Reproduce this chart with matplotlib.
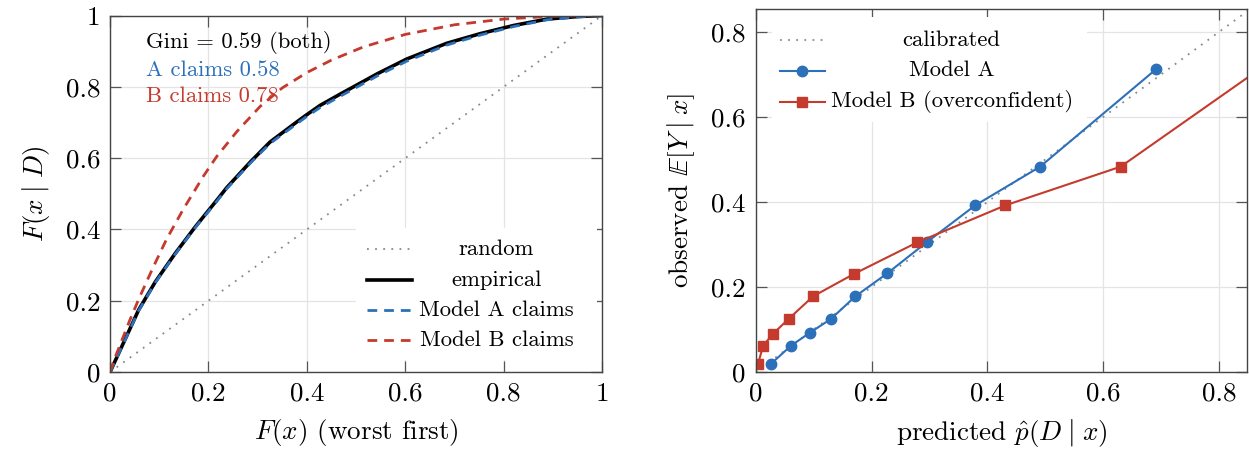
import matplotlib
matplotlib.use("Agg")
import matplotlib.pyplot as plt
from matplotlib.patches import Rectangle

plt.rcParams['font.family'] = 'serif'
plt.rcParams['font.serif'] = ['cmr10']
plt.rcParams['mathtext.fontset'] = 'cm'
plt.rcParams['axes.unicode_minus'] = False
plt.rcParams['axes.formatter.use_mathtext'] = True

BLUE = '#2c70ba'
RED = '#c43b2e'
GRAY = '#7f8c8d'

# ---- left panel: cumulative capture curves ----
cap_x = [0, 0.03, 0.058, 0.092, 0.132, 0.173, 0.217, 0.237, 0.285, 0.325, 0.379,
         0.40, 0.427, 0.467, 0.508, 0.545, 0.603, 0.684, 0.752, 0.82, 0.888, 0.95, 1.0]
empirical_y = [0, 0.09, 0.174, 0.253, 0.332, 0.407, 0.482, 0.517, 0.589, 0.645, 0.701,
               0.722, 0.748, 0.779, 0.81, 0.838, 0.878, 0.922, 0.949, 0.972, 0.99, 0.997, 1.0]
model_a_y = [0, 0.088, 0.172, 0.251, 0.33, 0.405, 0.479, 0.514, 0.586, 0.641, 0.696,
             0.717, 0.742, 0.773, 0.804, 0.832, 0.872, 0.917, 0.945, 0.969, 0.988, 0.996, 1.0]
model_b_x = [0, 0.01, 0.04, 0.06, 0.088, 0.115, 0.149, 0.19, 0.217, 0.258, 0.305, 0.35,
             0.40, 0.45, 0.515, 0.60, 0.70, 0.80, 0.90, 1.0]
model_b_y = [0, 0.04, 0.145, 0.21, 0.295, 0.373, 0.457, 0.55, 0.605, 0.675, 0.745, 0.797,
             0.84, 0.875, 0.912, 0.947, 0.974, 0.99, 0.998, 1.0]

# ---- right panel: reliability diagram ----
calib = [0, 0.85]
a_pred = [0.027, 0.061, 0.093, 0.130, 0.172, 0.227, 0.295, 0.379, 0.491, 0.691]
a_obs = [0.020, 0.062, 0.092, 0.125, 0.178, 0.232, 0.305, 0.392, 0.483, 0.712]
b_pred = [0.004, 0.013, 0.030, 0.057, 0.099, 0.170, 0.279, 0.431, 0.630, 0.93]
b_obs = [0.019, 0.062, 0.090, 0.125, 0.178, 0.231, 0.305, 0.392, 0.483, 0.77]

fig = plt.figure(figsize=(12.49, 4.51), dpi=100)
ax1 = fig.add_axes([0.0881, 0.175, 0.394, 0.7906])
ax2 = fig.add_axes([0.605, 0.175, 0.3934, 0.8044])

FS = 19.5
SMALL = 16.3


def style_axes(ax):
    ax.grid(True, color='#e4e4e4', lw=0.9)
    ax.set_axisbelow(True)
    for s in ax.spines.values():
        s.set_color('#444444')
        s.set_linewidth(1.0)
    ax.tick_params(direction='in', length=8, width=0.9, color='#555555',
                   top=True, right=True, labelsize=FS, pad=7)


def manual_legend(ax, box, entries, hx, tx):
    ax.add_patch(Rectangle((box[0], box[1]), box[2], box[3], transform=ax.transAxes,
                           facecolor='white', edgecolor='none', zorder=5))
    for y, kw, label in entries:
        mk = kw.pop('marker', None)
        ms = kw.pop('ms', None)
        ax.plot(hx, [y, y], transform=ax.transAxes, zorder=6, clip_on=False, **kw)
        if mk is not None:
            ax.plot([(hx[0] + hx[1]) / 2], [y], transform=ax.transAxes, zorder=7,
                    clip_on=False, marker=mk, ms=ms, color=kw['color'], lw=0)
        ax.text(tx, y, label, transform=ax.transAxes, ha='center', va='center',
                fontsize=SMALL, zorder=7)


# left
style_axes(ax1)
ax1.plot([0, 1], [0, 1], color=GRAY, lw=1.3, linestyle=(0, (1, 3.5)))
ax1.plot(cap_x, empirical_y, color='black', lw=2.6)
ax1.plot(cap_x, model_a_y, color=BLUE, lw=2.0, dashes=(3.5, 2.5))
ax1.plot(model_b_x, model_b_y, color=RED, lw=2.0, dashes=(3.5, 2.5))
ax1.set_xlim(0, 1)
ax1.set_ylim(0, 1)
ticks = [0, 0.2, 0.4, 0.6, 0.8, 1]
ax1.set_xticks(ticks, ['0', '0.2', '0.4', '0.6', '0.8', '1'])
ax1.set_yticks(ticks, ['0', '0.2', '0.4', '0.6', '0.8', '1'])
ax1.set_xlabel(r'$F(x)$ (worst first)', fontsize=FS, labelpad=8)
ax1.set_ylabel(r'$F(x\;|\;D)$', fontsize=FS, labelpad=10)
ax1.text(0.073, 0.924, 'Gini = 0.59 (both)', fontsize=SMALL, va='center')
ax1.text(0.073, 0.846, 'A claims 0.58', fontsize=SMALL, va='center', color=BLUE)
ax1.text(0.073, 0.773, 'B claims 0.78', fontsize=SMALL, va='center', color=RED)
manual_legend(ax1, (0.50, 0.035, 0.49, 0.37), [
    (0.344, dict(color=GRAY, lw=1.3, linestyle=(0, (1, 3.5))), 'random'),
    (0.258, dict(color='black', lw=2.6), 'empirical'),
    (0.174, dict(color=BLUE, lw=2.0, dashes=(3.5, 2.5)), 'Model A claims'),
    (0.090, dict(color=RED, lw=2.0, dashes=(3.5, 2.5)), 'Model B claims'),
], hx=[0.522, 0.613], tx=0.785)

# right
style_axes(ax2)
ax2.plot(calib, calib, color=GRAY, lw=1.3, linestyle=(0, (1, 3.5)))
ax2.plot(a_pred, a_obs, color=BLUE, lw=1.5, marker='o', ms=7.5)
ax2.plot(b_pred, b_obs, color=RED, lw=1.5, marker='s', ms=7)
ax2.set_xlim(0, 0.848)
ax2.set_ylim(0, 0.853)
rticks = [0, 0.2, 0.4, 0.6, 0.8]
ax2.set_xticks(rticks, ['0', '0.2', '0.4', '0.6', '0.8'])
ax2.set_yticks(rticks, ['0', '0.2', '0.4', '0.6', '0.8'])
ax2.set_xlabel(r'predicted $\hat{p}(D\;|\;x)$', fontsize=FS, labelpad=8)
ax2.set_ylabel(r'observed $\mathbb{E}[Y\;|\;x]$', fontsize=FS, labelpad=10)
manual_legend(ax2, (0.033, 0.69, 0.641, 0.29), [
    (0.915, dict(color=GRAY, lw=1.3, linestyle=(0, (1, 3.5))), 'calibrated'),
    (0.831, dict(color=BLUE, lw=1.5, marker='o', ms=7.5), 'Model A'),
    (0.745, dict(color=RED, lw=1.5, marker='s', ms=7), 'Model B (overconfident)'),
], hx=[0.0495, 0.141], tx=0.399)

fig.savefig('out.png', dpi=100)
